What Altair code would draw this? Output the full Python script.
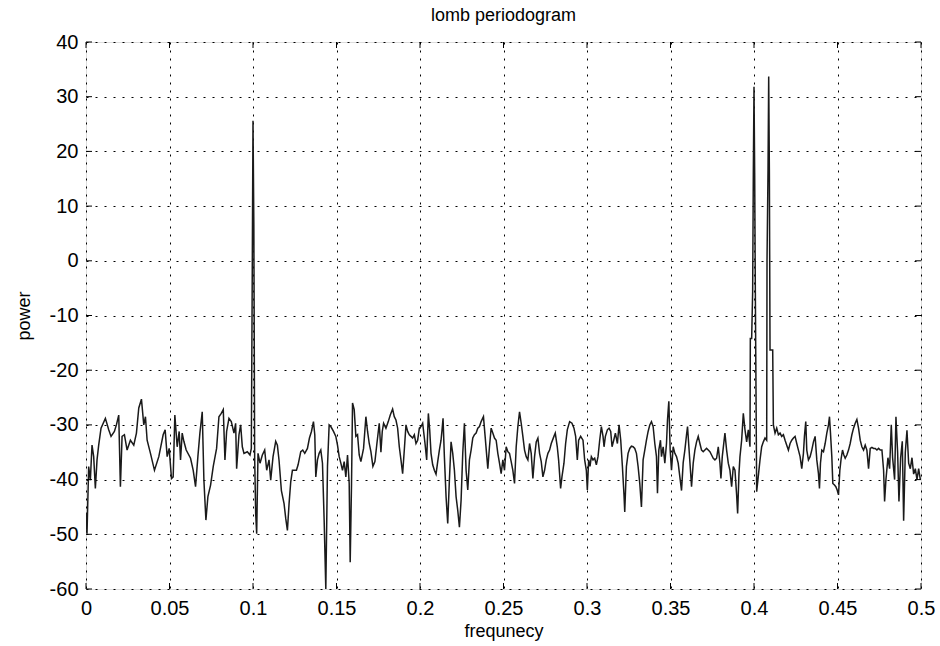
import altair as alt
import pandas as pd

frequency = [
    0.0, 0.0006, 0.0016, 0.0026, 0.0036, 0.0046, 0.0056, 0.0066, 0.0076, 0.009,
    0.0116, 0.0136, 0.015, 0.017, 0.0182, 0.0196, 0.0206, 0.0216, 0.023, 0.0246,
    0.0266, 0.0286, 0.0302, 0.0316, 0.0332, 0.0346, 0.0356, 0.0366, 0.0386, 0.041,
    0.0436, 0.0462, 0.0474, 0.0486, 0.0498, 0.0512, 0.0522, 0.0532, 0.0546, 0.0558,
    0.0566, 0.0576, 0.0586, 0.06, 0.0626, 0.0642, 0.0656, 0.067, 0.0682, 0.0696,
    0.0706, 0.0718, 0.073, 0.0746, 0.0762, 0.0782, 0.0796, 0.081, 0.0822, 0.0832,
    0.0842, 0.0856, 0.087, 0.0886, 0.0896, 0.0902, 0.0916, 0.0926, 0.0936, 0.0946,
    0.0966, 0.0982, 0.099, 0.0995, 0.1, 0.1005, 0.101, 0.1016, 0.1022, 0.103,
    0.1042, 0.1056, 0.107, 0.1082, 0.1096, 0.1106, 0.112, 0.1136, 0.1146, 0.1156,
    0.117, 0.1186, 0.1196, 0.1206, 0.1216, 0.1226, 0.1236, 0.1246, 0.126, 0.127,
    0.1286, 0.1298, 0.131, 0.1326, 0.1338, 0.135, 0.1362, 0.137, 0.1376, 0.1386,
    0.1396, 0.1406, 0.1416, 0.1426, 0.1436, 0.1446, 0.1456, 0.1466, 0.1482, 0.1496,
    0.1506, 0.1516, 0.1526, 0.1536, 0.1546, 0.1556, 0.1566, 0.1576, 0.1582, 0.159,
    0.1596, 0.1606, 0.1616, 0.1626, 0.1636, 0.1646, 0.1662, 0.1676, 0.1686, 0.1696,
    0.1706, 0.1718, 0.173, 0.1742, 0.1756, 0.1766, 0.1774, 0.1782, 0.1796, 0.181,
    0.1822, 0.1836, 0.1846, 0.1856, 0.1866, 0.1876, 0.1886, 0.1896, 0.1906, 0.1916,
    0.1926, 0.1936, 0.1946, 0.1956, 0.1966, 0.1976, 0.1986, 0.1996, 0.2006, 0.2016,
    0.203, 0.204, 0.205, 0.2058, 0.2066, 0.2076, 0.2086, 0.2096, 0.2106, 0.2116,
    0.2126, 0.2132, 0.2138, 0.2146, 0.2156, 0.2166, 0.2176, 0.2186, 0.2196, 0.2206,
    0.2216, 0.2226, 0.2236, 0.2246, 0.2256, 0.2266, 0.2276, 0.2286, 0.2296, 0.2306,
    0.2316, 0.2326, 0.2336, 0.2346, 0.2356, 0.2366, 0.238, 0.239, 0.24, 0.2406,
    0.2416, 0.2426, 0.2436, 0.2446, 0.2456, 0.2466, 0.2476, 0.2486, 0.2496, 0.2506,
    0.2516, 0.2526, 0.2536, 0.2546, 0.2556, 0.2566, 0.2576, 0.2586, 0.2596, 0.2606,
    0.2616, 0.2626, 0.2636, 0.2646, 0.2656, 0.2666, 0.2676, 0.2686, 0.2696, 0.2706,
    0.2716, 0.2726, 0.2736, 0.2746, 0.2756, 0.2766, 0.2776, 0.2786, 0.2802, 0.281,
    0.2822, 0.283, 0.2842, 0.285, 0.2862, 0.2872, 0.2882, 0.2896, 0.291, 0.2922,
    0.2932, 0.2942, 0.295, 0.2962, 0.2976, 0.2986, 0.2996, 0.3002, 0.301, 0.3018,
    0.3026, 0.3036, 0.3046, 0.3056, 0.3066, 0.3076, 0.3086, 0.3096, 0.3102, 0.311,
    0.3122, 0.3132, 0.3142, 0.315, 0.316, 0.317, 0.3182, 0.3192, 0.3202, 0.3212,
    0.3222, 0.3226, 0.3236, 0.3246, 0.3256, 0.3266, 0.3276, 0.3286, 0.3296, 0.3306,
    0.3316, 0.3326, 0.3336, 0.3346, 0.3356, 0.3366, 0.3376, 0.3386, 0.3396, 0.3406,
    0.3416, 0.3422, 0.343, 0.344, 0.3446, 0.3456, 0.3466, 0.3476, 0.3482, 0.349,
    0.3498, 0.3506, 0.3516, 0.3526, 0.3536, 0.3546, 0.3556, 0.3566, 0.3576, 0.3586,
    0.3596, 0.3602, 0.361, 0.3618, 0.3626, 0.3636, 0.3646, 0.3656, 0.3666, 0.3676,
    0.3686, 0.3696, 0.3706, 0.3716, 0.3726, 0.3736, 0.3746, 0.3756, 0.3766, 0.3776,
    0.3786, 0.3796, 0.3802, 0.381, 0.382, 0.3826, 0.3836, 0.3846, 0.3856, 0.3866,
    0.3876, 0.3886, 0.3896, 0.3902, 0.391, 0.3916, 0.3926, 0.3936, 0.3946, 0.3956,
    0.3966, 0.3976, 0.3978, 0.3986, 0.3992, 0.3996, 0.4, 0.4004, 0.4008, 0.4016,
    0.4036, 0.4046, 0.4056, 0.4066, 0.4076, 0.4078, 0.4084, 0.4088, 0.4092, 0.4096,
    0.4112, 0.4116, 0.4126, 0.4136, 0.4146, 0.4156, 0.4166, 0.4176, 0.4186, 0.4196,
    0.4206, 0.4216, 0.4226, 0.4236, 0.4246, 0.4256, 0.4266, 0.4276, 0.4286, 0.4296,
    0.4302, 0.431, 0.4316, 0.4326, 0.4336, 0.4346, 0.4356, 0.4366, 0.4376, 0.4386,
    0.4392, 0.4398, 0.4406, 0.4416, 0.4426, 0.4436, 0.4446, 0.4452, 0.4458, 0.4466,
    0.4472, 0.4482, 0.449, 0.4498, 0.4506, 0.4514, 0.4522, 0.453, 0.4538, 0.4546,
    0.4556, 0.4566, 0.4576, 0.4586, 0.4596, 0.4606, 0.4616, 0.4626, 0.4636, 0.4646,
    0.4656, 0.4666, 0.4676, 0.4686, 0.4696, 0.4706, 0.4716, 0.4726, 0.4736, 0.4746,
    0.4756, 0.4766, 0.4776, 0.4782, 0.479, 0.4802, 0.4812, 0.4822, 0.483, 0.4842,
    0.485, 0.486, 0.4868, 0.4878, 0.4888, 0.4896, 0.4906, 0.4916, 0.4926, 0.4936,
    0.4946, 0.4956, 0.4966, 0.4976, 0.4986, 0.4996,
]

power = [
    -46.0, -49.9, -37.6, -40.1, -33.7, -35.8, -41.6, -36.4, -33.7, -30.6,
    -28.8, -30.9, -32.1, -31.2, -30.0, -28.2, -41.3, -32.1, -31.8, -34.6,
    -32.8, -33.7, -31.5, -26.9, -25.3, -30.0, -28.5, -32.8, -35.2, -38.3,
    -35.8, -31.8, -30.9, -35.8, -34.3, -39.8, -39.5, -28.2, -34.0, -31.2,
    -36.4, -31.5, -33.0, -34.6, -36.1, -38.3, -41.3, -35.8, -31.5, -27.6,
    -40.1, -47.4, -43.1, -41.0, -37.6, -34.3, -28.5, -27.9, -27.2, -36.4,
    -31.2, -28.8, -29.4, -31.5, -29.7, -38.0, -31.8, -30.0, -34.0, -35.2,
    -34.9, -35.5, -34.3, -5.6, 25.6, 6.7, -36.0, -46.2, -49.9, -35.2,
    -37.0, -35.5, -34.6, -38.3, -36.4, -40.1, -35.8, -33.0, -33.7, -36.5,
    -42.0, -44.4, -47.1, -49.3, -44.4, -40.4, -38.3, -38.3, -38.3, -37.3,
    -34.9, -34.6, -35.2, -34.3, -32.4, -31.2, -29.4, -31.8, -39.5, -36.4,
    -35.2, -34.6, -37.0, -47.4, -60.0, -37.6, -30.0, -30.3, -31.2, -32.1,
    -33.7, -35.8, -37.0, -38.3, -36.7, -39.5, -35.5, -40.7, -55.1, -40.7,
    -26.0, -27.2, -32.1, -31.8, -35.5, -36.7, -34.3, -28.5, -31.2, -33.4,
    -34.9, -37.6, -36.7, -33.4, -29.7, -35.0, -31.2, -29.7, -30.6, -29.4,
    -28.2, -27.1, -28.5, -29.1, -30.6, -34.0, -36.4, -38.9, -34.6, -30.0,
    -31.2, -31.8, -32.1, -32.4, -31.8, -33.4, -32.8, -30.6, -30.3, -29.7,
    -33.4, -36.4, -27.9, -30.9, -35.2, -37.3, -38.3, -39.0, -36.7, -34.6,
    -32.8, -30.9, -28.8, -35.8, -43.1, -48.0, -40.1, -33.1, -35.2, -38.3,
    -43.1, -45.6, -48.7, -43.8, -35.2, -29.7, -38.3, -41.9, -36.4, -34.6,
    -32.4, -31.8, -31.5, -30.6, -30.3, -29.4, -28.5, -32.1, -35.8, -38.0,
    -34.0, -30.6, -31.5, -32.4, -32.8, -35.2, -37.0, -38.9, -36.4, -38.3,
    -34.0, -34.9, -35.2, -36.7, -38.3, -40.7, -34.0, -30.3, -27.6, -29.7,
    -32.1, -34.6, -35.8, -36.4, -33.4, -35.2, -39.8, -35.8, -33.1, -32.4,
    -35.2, -36.7, -39.5, -38.3, -36.4, -35.2, -34.6, -33.4, -32.1, -31.5,
    -34.0, -36.4, -41.6, -39.5, -37.0, -33.4, -30.9, -29.4, -29.7, -30.6,
    -32.1, -36.4, -32.8, -32.1, -32.8, -36.4, -38.3, -41.9, -36.4, -37.6,
    -35.8, -36.4, -36.1, -37.3, -35.8, -32.8, -30.3, -32.1, -34.0, -32.1,
    -30.9, -30.6, -31.2, -34.0, -32.8, -31.5, -33.4, -30.0, -32.8, -37.6,
    -43.1, -45.9, -37.6, -35.2, -34.3, -33.9, -34.0, -34.3, -35.2, -37.6,
    -40.7, -45.0, -36.4, -34.6, -32.8, -31.2, -30.0, -29.4, -30.3, -33.4,
    -35.8, -42.5, -34.6, -32.8, -35.8, -34.0, -37.0, -33.4, -29.1, -25.7,
    -34.6, -38.3, -34.0, -35.2, -35.8, -37.0, -39.5, -42.0, -36.9, -34.6,
    -31.8, -30.3, -34.0, -37.6, -41.3, -37.0, -34.6, -33.1, -32.1, -33.4,
    -34.6, -34.9, -34.6, -34.3, -34.6, -34.9, -35.5, -36.1, -36.4, -36.1,
    -34.0, -37.0, -39.8, -35.8, -33.1, -31.5, -34.6, -37.0, -38.3, -41.3,
    -37.6, -38.3, -42.8, -46.2, -38.9, -35.8, -32.8, -27.9, -30.9, -33.1,
    -30.9, -34.0, -14.2, -14.2, -5.6, 16.1, 31.8, 16.1, -5.6, -42.2,
    -36.4, -34.0, -33.1, -32.4, -32.8, 0.2, 16.7, 33.7, 16.7, -16.3,
    -16.3, -30.0, -31.5, -30.6, -31.8, -31.5, -32.1, -31.8, -32.8, -33.7,
    -34.6, -33.4, -32.8, -32.4, -32.1, -33.4, -34.6, -35.8, -38.0, -35.2,
    -32.1, -29.4, -34.6, -36.4, -35.8, -34.6, -33.1, -32.1, -36.4, -38.9,
    -41.6, -37.0, -34.6, -34.9, -33.4, -31.5, -30.0, -28.5, -31.5, -35.8,
    -40.7, -41.0, -41.3, -41.9, -42.8, -38.3, -36.1, -34.6, -35.5, -36.1,
    -35.5, -34.6, -33.4, -31.8, -30.6, -29.7, -29.0, -30.6, -32.8, -34.0,
    -34.6, -33.7, -34.6, -38.0, -34.3, -34.1, -34.3, -34.3, -34.6, -34.3,
    -34.6, -34.6, -38.3, -44.0, -40.0, -36.0, -38.0, -30.0, -36.0, -40.0,
    -28.5, -35.0, -44.0, -36.0, -33.0, -47.5, -35.0, -31.0, -37.0, -38.0,
    -36.0, -39.0, -38.0, -40.0, -38.0, -40.0,
]

x_ticks = [0, 0.05, 0.1, 0.15, 0.2, 0.25, 0.3, 0.35, 0.4, 0.45, 0.5]
y_ticks = [-60, -50, -40, -30, -20, -10, 0, 10, 20, 30, 40]

TOP, LEFT = 42, 86
W, H = 835, 547
FONT = "Liberation Sans"
FS = 20

df = pd.DataFrame({"frequency": frequency, "power": power})
xt = pd.DataFrame({"frequency": x_ticks})
yt = pd.DataFrame({"power": y_ticks})

xs = alt.Scale(domain=[0, 0.5], nice=False, zero=False)
ys = alt.Scale(domain=[-60, 40], nice=False, zero=False)

x_axis = alt.Axis(
    values=x_ticks,
    labelExpr="datum.value + ''",
    grid=True,
    gridColor="black",
    gridDash=[2, 6],
    gridWidth=1,
    ticks=False,
    domain=False,
    labelFont=FONT,
    labelFontSize=FS,
    labelColor="black",
    labelPadding=9,
    labelFlush=False,
    title="frequnecy",
    titleFont=FONT,
    titleFontSize=18,
    titleFontWeight="normal",
    titleColor="black",
    titlePadding=4,
)
y_axis = alt.Axis(
    values=y_ticks,
    labelExpr="datum.value + ''",
    grid=True,
    gridColor="black",
    gridDash=[2, 7],
    gridWidth=1,
    ticks=False,
    domain=False,
    labelFont=FONT,
    labelFontSize=FS,
    labelColor="black",
    labelPadding=8,
    labelFlush=False,
    title="power",
    titleFont=FONT,
    titleFontSize=18,
    titleFontWeight="normal",
    titleColor="black",
    titlePadding=16,
)

X = alt.X("frequency:Q", scale=xs, axis=x_axis)
Y = alt.Y("power:Q", scale=ys, axis=y_axis)

line = alt.Chart(df).mark_line(color="#1a1a1a", strokeWidth=1.5, clip=True).encode(x=X, y=Y)

tick_len = 6
xb = alt.Chart(xt).mark_rule(color="black").encode(
    x=X, y=alt.value(H), y2=alt.value(H - tick_len)
)
xtop = alt.Chart(xt).mark_rule(color="black").encode(
    x=X, y=alt.value(0), y2=alt.value(tick_len)
)
yl = alt.Chart(yt).mark_rule(color="black").encode(
    y=Y, x=alt.value(0), x2=alt.value(tick_len)
)
yr = alt.Chart(yt).mark_rule(color="black").encode(
    y=Y, x=alt.value(W), x2=alt.value(W - tick_len)
)

chart = (
    alt.layer(line, xb, xtop, yl, yr)
    .properties(
        width=W,
        height=H,
        title=alt.TitleParams(
            "lomb periodogram",
            font=FONT,
            fontSize=18,
            fontWeight="normal",
            color="black",
            anchor="middle",
            offset=7,
        ),
        autosize=alt.AutoSizeParams(type="none"),
        padding={"left": LEFT, "top": TOP, "right": 940 - LEFT - W, "bottom": 646 - TOP - H},
    )
    .configure_view(stroke="black", strokeWidth=1.5)
    .configure(background="white")
)

chart.save("out.html", embed_options={"renderer": "svg", "actions": False})
